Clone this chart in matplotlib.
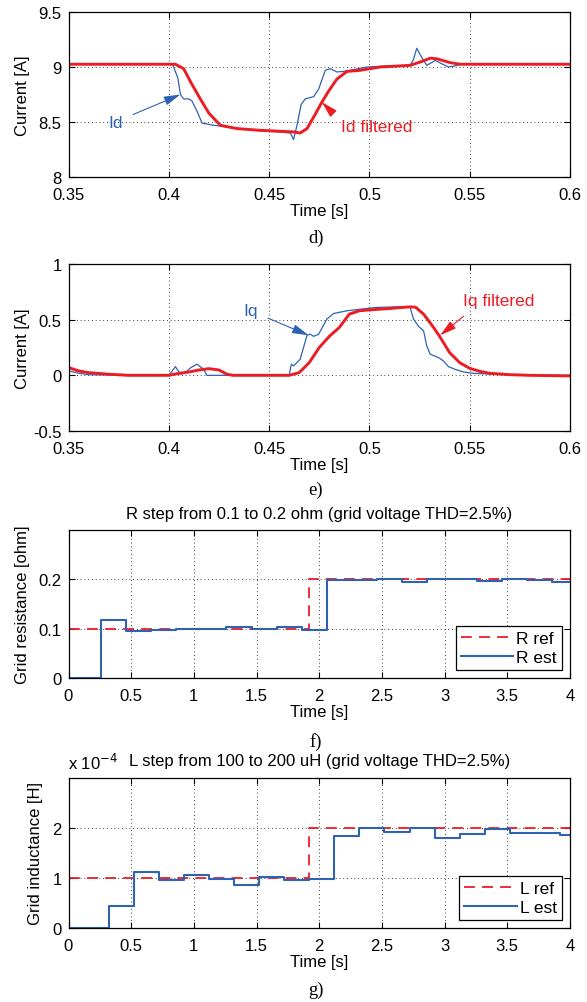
import matplotlib
matplotlib.use("Agg")
import matplotlib.pyplot as plt
from matplotlib.ticker import FuncFormatter

plt.rcParams['font.family'] = ['Liberation Sans', 'DejaVu Sans']
plt.rcParams['font.size'] = 12

BLUE = '#2f62b3'
RED = '#ec1c24'

# panel d) Id
id_t = [0.35, 0.40, 0.402, 0.4045, 0.4058, 0.4074, 0.4100, 0.4116, 0.4140, 0.4166, 0.4224,
        0.4290, 0.4423, 0.4540, 0.4606, 0.4622, 0.4639, 0.4660, 0.4680, 0.4700, 0.4722,
        0.4747, 0.4780, 0.4805, 0.4838, 0.4870, 0.4904, 0.4987, 0.5100, 0.5203, 0.5220,
        0.5236, 0.5260, 0.5286, 0.5310, 0.5328, 0.5360, 0.5394, 0.5427, 0.5469, 0.5500, 0.60]
id_v = [9.025, 9.025, 9.02, 8.90, 8.75, 8.71, 8.71, 8.69, 8.60, 8.49, 8.47,
        8.455, 8.425, 8.41, 8.40, 8.34, 8.47, 8.66, 8.71, 8.72, 8.73,
        8.80, 8.97, 8.985, 8.955, 8.96, 8.97, 9.00, 9.01, 9.015, 9.07,
        9.17, 9.09, 9.015, 9.04, 9.06, 9.03, 9.00, 9.01, 9.03, 9.025, 9.025]
idf_t = [0.35, 0.4033, 0.4074, 0.4110, 0.4157, 0.4200, 0.4257, 0.4340, 0.4450, 0.4622,
         0.4655, 0.4689, 0.4730, 0.4763, 0.4800, 0.4838, 0.4888, 0.4954, 0.5053, 0.5203,
         0.5253, 0.5303, 0.5336, 0.5402, 0.5452, 0.60]
idf_v = [9.025, 9.025, 8.985, 8.86, 8.71, 8.58, 8.47, 8.44, 8.425, 8.41,
         8.40, 8.44, 8.57, 8.68, 8.79, 8.89, 8.96, 8.97, 9.00, 9.015,
         9.045, 9.08, 9.075, 9.04, 9.025, 9.025]

# panel e) Iq
iq_t = [0.35, 0.355, 0.36, 0.40, 0.4033, 0.4058, 0.4080, 0.4110, 0.4141, 0.4174, 0.4190,
        0.4300, 0.4600, 0.4611, 0.4622, 0.4655, 0.4689, 0.4705, 0.4722, 0.4747, 0.4788,
        0.4821, 0.4888, 0.4954, 0.5037, 0.5187, 0.5203, 0.5220, 0.5245, 0.5270, 0.5286,
        0.5303, 0.5344, 0.5369, 0.5394, 0.5427, 0.5469, 0.5518, 0.5618, 0.58, 0.60]
iq_v = [0.04, 0.02, 0.005, 0.0, 0.078, 0.01, 0.02, 0.07, 0.10, 0.054, 0.0,
        0.0, 0.0, 0.10, 0.085, 0.145, 0.36, 0.37, 0.35, 0.37, 0.505,
        0.555, 0.58, 0.594, 0.61, 0.618, 0.61, 0.505, 0.44, 0.40, 0.264,
        0.19, 0.16, 0.13, 0.078, 0.054, 0.03, 0.018, 0.01, 0.0, 0.0]
iqf_t = [0.35, 0.355, 0.36, 0.37, 0.38, 0.40, 0.405, 0.41, 0.415, 0.42, 0.425, 0.429,
         0.432, 0.46, 0.465, 0.47, 0.475, 0.48, 0.485, 0.49, 0.495, 0.50, 0.51, 0.52,
         0.523, 0.527, 0.532, 0.535, 0.54, 0.545, 0.55, 0.555, 0.56, 0.57, 0.58, 0.60]
iqf_v = [0.07, 0.04, 0.024, 0.01, 0.0, 0.0, 0.018, 0.03, 0.048, 0.06, 0.048, 0.01,
         0.0, 0.0, 0.024, 0.114, 0.25, 0.35, 0.43, 0.55, 0.58, 0.588, 0.60, 0.615,
         0.612, 0.55, 0.43, 0.35, 0.204, 0.114, 0.063, 0.036, 0.018, 0.006, 0.0, -0.005]

# panel f) R step
r_ref_t = [0.0, 1.92, 1.92, 4.0]
r_ref_v = [0.1, 0.1, 0.2, 0.2]
r_est_t = [0.0, 0.26, 0.46, 0.66, 0.86, 1.06, 1.26, 1.46, 1.66, 1.86, 2.06,
           2.26, 2.46, 2.66, 2.86, 3.06, 3.26, 3.46, 3.66, 3.86, 4.0]
r_est_v = [0.0, 0.118, 0.095, 0.098, 0.1, 0.1, 0.104, 0.1, 0.103, 0.098, 0.198,
           0.198, 0.201, 0.194, 0.2, 0.2, 0.196, 0.2, 0.198, 0.195, 0.195]

# panel g) L step (H)
l_ref_t = [0.0, 1.92, 1.92, 4.0]
l_ref_v = [1e-4, 1e-4, 2e-4, 2e-4]
l_est_t = [0.0, 0.32, 0.52, 0.72, 0.92, 1.12, 1.32, 1.52, 1.72, 1.92, 2.12,
           2.32, 2.52, 2.72, 2.92, 3.12, 3.32, 3.52, 3.72, 3.92, 4.0]
l_est_v = [0.0, 0.45e-4, 1.12e-4, 0.97e-4, 1.07e-4, 0.98e-4, 0.87e-4, 1.03e-4, 0.97e-4, 0.98e-4,
           1.85e-4, 2.0e-4, 1.92e-4, 2.0e-4, 1.81e-4, 1.88e-4, 1.99e-4, 1.9e-4, 1.9e-4, 1.86e-4,
           1.86e-4]

W, H = 587, 1003
fig = plt.figure(figsize=(W / 100, H / 100), dpi=100)


def add_ax(top, bottom, left=68.5, right=570):
    return fig.add_axes([left / W, 1 - bottom / H, (right - left) / W, (bottom - top) / H])


def style(ax):
    ax.tick_params(direction='in', top=True, right=True, length=4, width=0.8, labelsize=12)
    ax.tick_params(axis='x', pad=7)
    ax.tick_params(axis='y', pad=5)
    ax.grid(True, color='black', linestyle=(0, (1, 3.5)), linewidth=0.6)
    for s in ax.spines.values():
        s.set_linewidth(0.9)


def tick_fmt(v, pos):
    return f'{v:g}'


ARROW = '-|>,head_length=0.8,head_width=0.22'

ax_d = add_ax(13, 178)
ax_e = add_ax(265, 432)
ax_f = add_ax(531, 679)
ax_g = add_ax(779, 929)

# d)
ax_d.plot(id_t, id_v, color=BLUE, lw=0.9)
ax_d.plot(idf_t, idf_v, color=RED, lw=2.1)
ax_d.set_xlim(0.35, 0.6)
ax_d.set_ylim(8, 9.5)
ax_d.set_yticks([8, 8.5, 9, 9.5])
ax_d.set_xticks([0.35, 0.4, 0.45, 0.5, 0.55, 0.6])
ax_d.set_ylabel('Current [A]')
ax_d.set_xlabel('Time [s]', labelpad=1)
ax_d.annotate('Id', xy=(0.4058, 8.75), xytext=(0.3734, 8.50), color=BLUE, fontsize=12.5,
              ha='center', va='center',
              arrowprops=dict(arrowstyle=ARROW, color=BLUE, lw=0.8, shrinkA=6, shrinkB=0))
ax_d.annotate('Id filtered', xy=(0.4763, 8.68), xytext=(0.5035, 8.455), color=RED, fontsize=12.5,
              ha='center', va='center',
              arrowprops=dict(arrowstyle=ARROW, color=RED, lw=0.8,
                              shrinkA=8, shrinkB=0, relpos=(0, 0.9)))

# e)
ax_e.plot(iq_t, iq_v, color=BLUE, lw=0.9)
ax_e.plot(iqf_t, iqf_v, color=RED, lw=2.1)
ax_e.set_xlim(0.35, 0.6)
ax_e.set_ylim(-0.5, 1)
ax_e.set_yticks([-0.5, 0, 0.5, 1])
ax_e.set_xticks([0.35, 0.4, 0.45, 0.5, 0.55, 0.6])
ax_e.set_ylabel('Current [A]')
ax_e.set_xlabel('Time [s]', labelpad=1)
ax_e.annotate('Iq', xy=(0.4697, 0.36), xytext=(0.4406, 0.58), color=BLUE, fontsize=12.5,
              ha='center', va='center',
              arrowprops=dict(arrowstyle=ARROW, color=BLUE, lw=0.8,
                              shrinkA=6, shrinkB=0, relpos=(1, 0.3)))
ax_e.annotate('Iq filtered', xy=(0.5353, 0.36), xytext=(0.5643, 0.67), color=RED, fontsize=12.5,
              ha='center', va='center',
              arrowprops=dict(arrowstyle=ARROW, color=RED, lw=0.8,
                              shrinkA=6, shrinkB=0, relpos=(0.15, 0)))

for ax in (ax_d, ax_e):
    ax.xaxis.set_major_formatter(FuncFormatter(tick_fmt))
    ax.yaxis.set_major_formatter(FuncFormatter(tick_fmt))
    style(ax)

# f)
ax_f.plot(r_ref_t, r_ref_v, color=RED, lw=1.3, linestyle=(0, (6, 4)), label='R ref')
ax_f.plot(r_est_t, r_est_v, color=BLUE, lw=1.5, drawstyle='steps-post', label='R est')
ax_f.set_xlim(0, 4)
ax_f.set_ylim(0, 0.3)
ax_f.set_yticks([0, 0.1, 0.2])
ax_f.set_xticks([0, 0.5, 1, 1.5, 2, 2.5, 3, 3.5, 4])
ax_f.xaxis.set_major_formatter(FuncFormatter(tick_fmt))
ax_f.yaxis.set_major_formatter(FuncFormatter(tick_fmt))
ax_f.set_ylabel('Grid resistance [ohm]')
ax_f.set_xlabel('Time [s]', labelpad=1)
ax_f.set_title('R step from 0.1 to 0.2 ohm (grid voltage THD=2.5%)', fontsize=12, pad=9)
style(ax_f)
leg = ax_f.legend(loc='lower right', fontsize=12.5, handlelength=3.0, handletextpad=0.2,
                  borderpad=0.3, labelspacing=0.2, fancybox=False, framealpha=1,
                  edgecolor='black', borderaxespad=0.45)
leg.get_frame().set_linewidth(0.9)

# g)
ax_g.plot(l_ref_t, l_ref_v, color=RED, lw=1.3, linestyle=(0, (6, 4)), label='L ref')
ax_g.plot(l_est_t, l_est_v, color=BLUE, lw=1.5, drawstyle='steps-post', label='L est')
ax_g.set_xlim(0, 4)
ax_g.set_ylim(0, 3e-4)
ax_g.set_yticks([0, 1e-4, 2e-4])
ax_g.set_xticks([0, 0.5, 1, 1.5, 2, 2.5, 3, 3.5, 4])
ax_g.xaxis.set_major_formatter(FuncFormatter(tick_fmt))
ax_g.yaxis.set_major_formatter(FuncFormatter(lambda v, p: f'{v * 1e4:g}'))
ax_g.set_ylabel('Grid inductance [H]')
ax_g.set_xlabel('Time [s]', labelpad=1)
ax_g.set_title('L step from 100 to 200 uH (grid voltage THD=2.5%)', fontsize=12, pad=9)
ax_g.text(0.0, 1.04, r'x 10$^{-4}$', transform=ax_g.transAxes, ha='left', va='bottom', fontsize=12)
style(ax_g)
leg = ax_g.legend(loc='lower right', fontsize=12.5, handlelength=3.0, handletextpad=0.2,
                  borderpad=0.3, labelspacing=0.2, fancybox=False, framealpha=1,
                  edgecolor='black', borderaxespad=0.45)
leg.get_frame().set_linewidth(0.9)

# y label positions (pixels from left, right edge of the rotated label)
for ax, xpix in ((ax_d, 30), (ax_e, 30), (ax_f, 30), (ax_g, 43)):
    ax.yaxis.set_label_coords((xpix - 68.5) / (570 - 68.5), 0.5)

# panel letters
for lab, y in (('d)', 238), ('e)', 490), ('f)', 742), ('g)', 990)):
    fig.text(316 / W, 1 - y / H, lab, ha='center', va='center', fontsize=13.5, family='Liberation Serif')

fig.savefig('out.png', dpi=100)
